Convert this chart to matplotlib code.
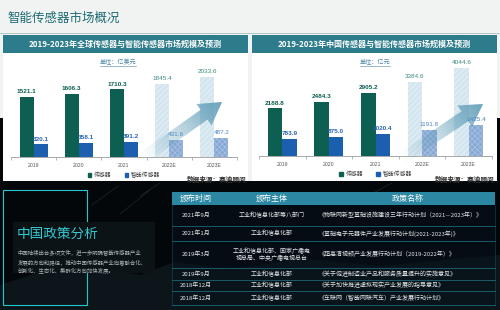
import numpy as np
import matplotlib
matplotlib.use('Agg')
import matplotlib.pyplot as plt
from matplotlib.patches import Rectangle, Polygon, Patch
from matplotlib.collections import PolyCollection
from matplotlib.transforms import Affine2D
from matplotlib.colors import to_rgb

plt.rcParams['font.family'] = ['Noto Sans CJK SC', 'DejaVu Sans']
plt.rcParams['hatch.linewidth'] = 0.5

# ---------------- data ----------------
years = ['2019', '2020', '2021', '2022E', '2023E']
is_forecast = [False, False, False, True, True]
global_sensor = [1521.1, 1606.3, 1710.3, 1845.4, 2033.6]
global_smart = [320.1, 358.1, 391.2, 431.6, 487.2]
china_sensor = [2188.8, 2484.3, 2905.2, 3384.6, 4044.6]
china_smart = [783.9, 875.0, 1020.4, 1191.8, 1425.4]

series_names = ['传感器', '智能传感器']
page_title = '智能传感器市场概况'
chart_titles = ['2019-2023年全球传感器与智能传感器市场规模及预测',
                '2019-2023年中国传感器与智能传感器市场规模及预测']
units = ['单位：亿美元', '单位：亿元']
source = '数据来源：赛迪顾问'

policy_title = '中国政策分析'
policy_text = ['中国陆续出台多项文件，进一步明确智能传感器产业',
               '发展的方向和路径，推动中国传感器产业向着融合化、',
               '创新化、生态化、集群化方向加快发展。']
table_header = ['颁布时间', '颁布主体', '政策名称']
policy_time = ['2021年9月', '2021年1月', '2019年3月', '2019年9月', '2018年12月', '2018年12月']
policy_org = ['工业和信息化部等八部门', '工业和信息化部',
              '工业和信息化部、国家广播电\n视总局、中央广播电视总台',
              '工业和信息化部', '工业和信息化部', '工业和信息化部']
policy_name = ['《物联网新型基础设施建设三年行动计划（2021—2023年）》',
               '《基础电子元器件产业发展行动计划(2021-2023年)》',
               '《超高清视频产业发展行动计划（2019-2022年）》',
               '《关于促进制造业产品和服务质量提升的实施意见》',
               '《关于加快推进虚拟现实产业发展的指导意见》',
               '《车联网（智能网联汽车）产业发展行动计划》']

# ---------------- colours ----------------
C_SENSOR = '#0c5f51'
C_SMART = '#1c5fae'
C_SENSOR_F = '#d3e5ee'
C_SMART_F = '#87a9d5'
C_HEAD = '#2d7c8b'
C_TEAL = '#1b6b72'
C_CYAN = '#25c6cf'

W, H = 500, 310
fig = plt.figure(figsize=(5, 3.1), dpi=100)
pxT = Affine2D().scale(1 / W, -1 / H).translate(0, 1) + fig.transFigure


def fax(x0, y0, x1, y1):
    return [x0 / W, 1 - y1 / H, (x1 - x0) / W, (y1 - y0) / H]


bg = fig.add_axes([0, 0, 1, 1], zorder=0)
bg.set_xlim(0, W)
bg.set_ylim(H, 0)
bg.axis('off')

# page backgrounds
bg.add_patch(Rectangle((0, 0), W, 181, color='#f1f3f3', lw=0))
bg.add_patch(Rectangle((0, 181), W, H - 181, color='#04070a', lw=0))
bg.add_patch(Rectangle((0, 118), 3, 63, color='#04070a', lw=0))
bg.add_patch(Rectangle((497, 118), 3, 63, color='#04070a', lw=0))
# faint scenery in dark area
bg.add_patch(Polygon([(0, 310), (0, 285), (40, 272), (90, 266), (140, 275), (175, 262),
                      (230, 270), (300, 258), (380, 266), (500, 255), (500, 310)],
                     color='#0f1a1f', lw=0, alpha=0.8))
for (x0, y0, x1, y1) in [(92, 205, 118, 186), (120, 214, 150, 190), (140, 196, 160, 183),
                         (360, 200, 392, 183)]:
    bg.plot([x0, x1], [y0, y1], color='#3a4a50', lw=0.4, alpha=0.6)

# page title
bg.text(7, 18, page_title, fontsize=9, color=C_TEAL, va='center', ha='left')
bg.plot([0, W], [33, 33], color='#a7c0c0', lw=0.6)

# chart panels
panels = [(3, 248), (252, 497)]
for (x0, x1), t in zip(panels, chart_titles):
    bg.add_patch(Rectangle((x0, 35), x1 - x0, 146, color='white', lw=0))
    bg.add_patch(Rectangle((x0, 35), x1 - x0, 17.5, color=C_HEAD, lw=0))
    bg.text((x0 + x1) / 2, 44, t, fontsize=5.8, color='white', fontweight='bold',
            ha='center', va='center')


def gradient_arrow(ax, tail, tip, body_hw, head_hw, head_len, color, amax):
    S = np.array(tail, float)
    T = np.array(tip, float)
    d = T - S
    L = np.hypot(*d)
    u = d / L
    n = np.array([-u[1], u[0]])
    B = T - head_len * u
    pts = [S + body_hw * n, B + body_hw * n, B + head_hw * n, T,
           B - head_hw * n, B - body_hw * n, S - body_hw * n]
    clip = Polygon(pts, closed=True, transform=pxT, facecolor='none', edgecolor='none')
    N = 60
    polys, cols = [], []
    rgb = to_rgb(color)
    Wd = head_hw + 3
    for k in range(N):
        c0 = S + (k / N * L) * u
        c1 = S + ((k + 1) / N * L + 0.4) * u
        polys.append([c0 + Wd * n, c1 + Wd * n, c1 - Wd * n, c0 - Wd * n])
        cols.append((*rgb, amax * ((k + 0.5) / N) ** 1.4))
    pc = PolyCollection(polys, facecolors=cols, edgecolors='none', transform=pxT, zorder=2)
    pc.set_clip_path(clip)
    pc.set_clip_on(True)
    ax.add_collection(pc, autolim=False)


def draw_chart(rect_px, sensor, smart, ymax, unit, unit_xy, src_xy, arrow):
    ax = fig.add_axes(fax(*rect_px), zorder=2)
    ax.set_facecolor('none')
    x = np.arange(len(years))
    w = 0.31
    for i in range(len(years)):
        if is_forecast[i]:
            ax.bar(x[i] - w / 2, sensor[i], w, color=C_SENSOR_F, edgecolor='#eef5f9',
                   hatch='//////', lw=0, zorder=1)
            ax.bar(x[i] + w / 2, smart[i], w, color=C_SMART_F, edgecolor='#a9c2e3',
                   hatch='xxxxxx', lw=0, zorder=1)
            c1, c2, fw = '#3c8c80', '#4f86c6', 'normal'
        else:
            ax.bar(x[i] - w / 2, sensor[i], w, color=C_SENSOR, lw=0, zorder=1)
            ax.bar(x[i] + w / 2, smart[i], w, color=C_SMART, lw=0, zorder=1)
            c1, c2, fw = C_SENSOR, '#2a63b3', 'bold'
        ax.annotate(f'{sensor[i]:.1f}', (x[i] - w / 2, sensor[i]), xytext=(0, 2),
                    textcoords='offset points', ha='center', va='bottom', fontsize=4.6,
                    color=c1, fontweight=fw, family=['Liberation Sans', 'DejaVu Sans'],
                    zorder=3)
        ax.annotate(f'{smart[i]:.1f}', (x[i] + w / 2, smart[i]), xytext=(0, 2),
                    textcoords='offset points', ha='center', va='bottom', fontsize=4.6,
                    color=c2, fontweight=fw, family=['Liberation Sans', 'DejaVu Sans'],
                    zorder=3)
    ax.set_xlim(-0.5, len(years) - 0.5)
    ax.set_ylim(0, ymax)
    for s in ['top', 'right', 'left']:
        ax.spines[s].set_visible(False)
    ax.spines['bottom'].set_color('#9a9a9a')
    ax.spines['bottom'].set_linewidth(0.6)
    ax.set_yticks([])
    ax.set_xticks(x)
    ax.set_xticklabels(years, fontsize=3.7, color='#555555',
                       family=['Liberation Sans', 'DejaVu Sans'])
    ax.tick_params(axis='x', which='major', length=0, pad=4)
    ax.set_xticks(np.arange(len(years) + 1) - 0.5, minor=True)
    ax.tick_params(axis='x', which='minor', length=2, width=0.5, color='#9a9a9a')
    handles = [Patch(color=C_SENSOR, label=series_names[0]),
               Patch(color=C_SMART, label=series_names[1])]
    ax.legend(handles=handles, ncol=2, loc='center', bbox_to_anchor=(0.5, -0.18),
              fontsize=4.2, frameon=False, handlelength=0.6, handleheight=0.6,
              handletextpad=0.5, columnspacing=2.2, labelcolor='#444444')
    gradient_arrow(ax, *arrow)
    # unit label with underline
    t = bg.text(unit_xy[0], unit_xy[1], unit, fontsize=4.4, color='#4d86a3',
                ha='center', va='center')
    half = len(unit) * 3.05
    bg.plot([unit_xy[0] - half, unit_xy[0] + half], [unit_xy[1] + 3.6] * 2,
            color='#4d86a3', lw=0.4)
    bg.text(src_xy[0], src_xy[1], source, fontsize=4.8, color='#333333',
            fontweight='bold', ha='right', va='center')
    return ax


draw_chart((11, 57, 237, 157), global_sensor, global_smart, 2532, units[0],
           (118, 62), (247, 179),
           ((140, 160), (222, 102), 6, 13, 22, '#5b9ab6', 0.9))
draw_chart((259, 56, 492, 156), china_sensor, china_smart, 4587, units[1],
           (375, 62), (495, 179),
           ((400, 160), (483, 104), 6, 13, 22, '#5b9ab6', 0.9))

# ---------------- policy section ----------------
ov = fig.add_axes([0, 0, 1, 1], zorder=3)
ov.set_xlim(0, W)
ov.set_ylim(H, 0)
ov.axis('off')
ov.patch.set_alpha(0)

ov.add_patch(Rectangle((3, 190), 84, 115, fill=False, ec=C_CYAN, lw=0.8))
ov.add_patch(Rectangle((13, 222), 142, 51, color='#0b1317', lw=0))
ov.text(17, 234, policy_title, fontsize=9.8, color='#36c9d2', ha='left', va='center')
for k, line in enumerate(policy_text):
    ov.text(18, 252.7 + k * 9, line, fontsize=3.9, color='#a9b3b7', ha='left', va='center')

tx0, tx1 = 172, 495
ov.add_patch(Rectangle((tx0, 205), tx1 - tx0, 100, color='#08111a', lw=0, alpha=0.6))
ov.add_patch(Rectangle((tx0, 192), tx1 - tx0, 13, color='#2b87a2', lw=0))
col_x = [196, 272, 408]
for cx, h in zip(col_x, table_header):
    ov.text(cx, 198.5, h, fontsize=5.8, color='white', ha='center', va='center')
row_lines = [205, 226, 241, 268, 279.5, 291, 305]
for y in row_lines[1:]:
    ov.plot([tx0, tx1], [y, y], color='#1f6576', lw=0.6)
ov.plot([tx0, tx0], [205, 305], color='#1f6576', lw=0.4, alpha=0.7)
ov.plot([tx1, tx1], [205, 305], color='#1f6576', lw=0.4, alpha=0.7)
for r in range(len(policy_time)):
    yc = (row_lines[r] + row_lines[r + 1]) / 2
    ov.text(col_x[0], yc, policy_time[r], fontsize=4.3, color='#e0e5e7', ha='center', va='center')
    ov.text(col_x[1], yc, policy_org[r], fontsize=4.3, color='#e0e5e7', ha='center',
            va='center', linespacing=1.15)
    ov.text(319, yc, policy_name[r], fontsize=4.3, color='#e0e5e7', ha='left', va='center')

fig.savefig('out.png', dpi=100)
